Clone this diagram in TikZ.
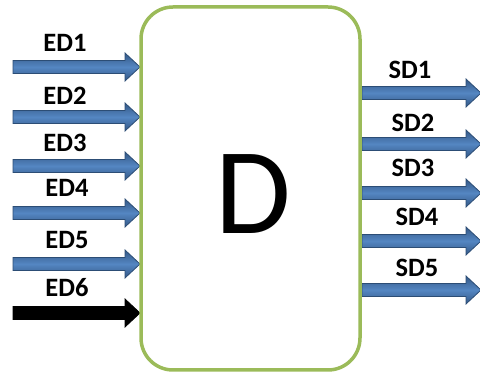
\documentclass[tikz,border=0pt]{standalone}
\usepackage{fontspec}
\setmainfont{Carlito}
\definecolor{boxgreen}{RGB}{155,187,89}
\definecolor{arrblue}{RGB}{84,134,194}
\definecolor{arrdark}{RGB}{52,88,134}
\definecolor{arredge}{RGB}{44,77,117}
\tikzset{
  dbox/.style={draw=boxgreen,line width=3.5pt,rounded corners=32pt,fill=white},
  bluearrow/.style={draw=arredge,line width=0.8pt,top color=arrdark,bottom color=arrdark,middle color=arrblue},
  blackarrow/.style={draw=black,fill=black,line width=0.8pt},
  lbl/.style={font=\bfseries\fontsize{26.5}{26.5}\selectfont,inner sep=0pt}
}
% \barrow{x start}{x tip}{y center}{style}
\newcommand{\barrow}[4]{%
  \path[#4] (#1pt,#3pt-6.5pt) -- (#2pt-15pt,#3pt-6.5pt) -- (#2pt-15pt,#3pt-14pt) -- (#2pt,#3pt)
    -- (#2pt-15pt,#3pt+14pt) -- (#2pt-15pt,#3pt+6.5pt) -- (#1pt,#3pt+6.5pt) -- cycle;}
\begin{document}
\begin{tikzpicture}[x=1pt,y=1pt]
\useasboundingbox (0,0) rectangle (480,375);
% input arrows (y = 375 - pixel y)
\barrow{13}{140}{308}{bluearrow}
\barrow{13}{140}{258}{bluearrow}
\barrow{13}{140}{209}{bluearrow}
\barrow{13}{140}{162}{bluearrow}
\barrow{13}{140}{111}{bluearrow}
\barrow{13}{140}{62}{blackarrow}
% output arrows
\barrow{362}{481}{282}{bluearrow}
\barrow{362}{481}{231}{bluearrow}
\barrow{362}{481}{182}{bluearrow}
\barrow{362}{481}{134}{bluearrow}
\barrow{362}{481}{85}{bluearrow}
% box
\node[dbox,minimum width=219pt,minimum height=363pt,inner sep=0pt] (D) at (250.5,186.5) {};
\node[inner sep=0pt,font=\fontsize{123}{123}\selectfont] (Dl) at (253,181) {D};
% labels
\node[lbl] (ed1) at (65,332) {ED1};
\node[lbl] (ed2) at (65,279) {ED2};
\node[lbl] (ed3) at (65,232) {ED3};
\node[lbl] (ed4) at (67,187) {ED4};
\node[lbl] (ed5) at (67,135) {ED5};
\node[lbl] (ed6) at (67,87) {ED6};
\node[lbl] (sd1) at (410,305) {SD1};
\node[lbl] (sd2) at (413,252) {SD2};
\node[lbl] (sd3) at (413,207) {SD3};
\node[lbl] (sd4) at (417,158) {SD4};
\node[lbl] (sd5) at (417,107) {SD5};
\end{tikzpicture}
\end{document}
